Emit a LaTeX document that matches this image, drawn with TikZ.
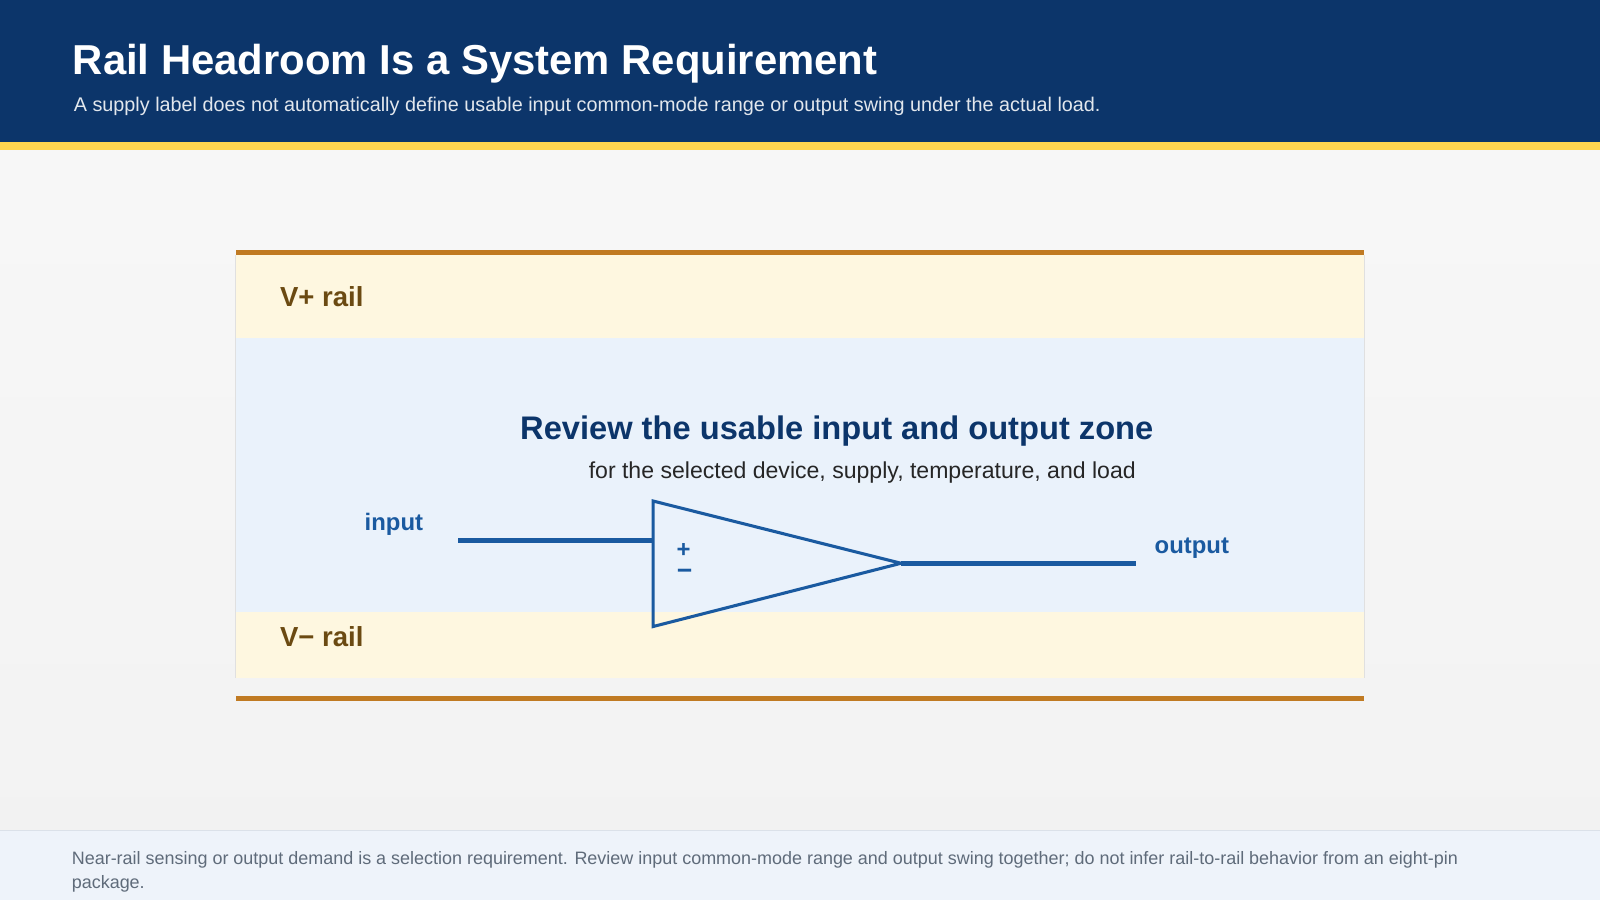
\documentclass[tikz,border=0pt]{standalone}
\usepackage{fontspec}
\setmainfont{Liberation Sans}
\definecolor{navy}{HTML}{0C356A}
\definecolor{gold}{HTML}{FFD54F}
\definecolor{rail}{HTML}{C07A22}
\definecolor{cream}{HTML}{FEF7E0}
\definecolor{zone}{HTML}{EAF2FB}
\definecolor{brown}{HTML}{6B4A12}
\definecolor{amp}{HTML}{1A5AA0}
\definecolor{foot}{HTML}{EEF3FA}
\definecolor{foottext}{HTML}{5F6B7A}
\begin{document}
\begin{tikzpicture}[x=0.5pt,y=-0.5pt,
  raillbl/.style={anchor=west,font=\fontsize{13.5}{15}\selectfont\bfseries,text=brown,inner sep=0},
  amplbl/.style={font=\fontsize{11.7}{14}\selectfont\bfseries,text=amp,inner sep=0},
  wire/.style={draw=amp,line width=2.5pt}]
\useasboundingbox (0,0) rectangle (1568,882);
\shade[top color=white!97!black,bottom color=white!95!black] (0,147) rectangle (1568,814);
\fill[navy] (0,0) rectangle (1568,139);
\fill[gold] (0,139) rectangle (1568,147);
\node[anchor=west,inner sep=0,text=white,font=\fontsize{20.5}{24}\selectfont\bfseries] (title) at (71,62) {Rail Headroom Is a System Requirement};
\node[anchor=west,inner sep=0,text=white!88!navy,font=\fontsize{9.7}{11}\selectfont] (sub) at (72,104) {A supply label does not automatically define usable input common-mode range or output swing under the actual load.};
% box
\fill[cream] (231,250) rectangle (1337,331);
\fill[zone] (231,331) rectangle (1337,600);
\fill[cream] (231,600) rectangle (1337,664);
\draw[white!88!black,line width=0.4pt] (231,250) -- (231,664) (1337,250) -- (1337,664);
\fill[rail] (231,245) rectangle (1337,250);
\fill[rail] (231,682) rectangle (1337,687);
\node[raillbl] (vp) at (274,291) {V+ rail};
\node[raillbl] (vm) at (274,624) {V− rail};
\node[inner sep=0,text=navy,font=\fontsize{16}{18}\selectfont\bfseries] (rt) at (820,422) {Review the usable input and output zone};
\node[inner sep=0,text=black!85,font=\fontsize{11.3}{13}\selectfont] (rs) at (845,463) {for the selected device, supply, temperature, and load};
% op amp
\coordinate (a1) at (640,491);
\coordinate (a2) at (640,614);
\coordinate (a3) at (883,552);
\draw[amp,line width=1.5pt,line join=miter] (a1) -- (a3) -- (a2) -- cycle;
\coordinate (inl) at (449,530);
\coordinate (inr) at (640,530);
\coordinate (outr) at (1113,552);
\draw[wire] (inl) -- (inr);
\draw[wire] (a3) -- (outr);
\node[amplbl] (plus) at (670,539) {+};
\node[amplbl,font=\fontsize{13}{14}\selectfont\bfseries] (minus) at (671,563) {−};
\node[amplbl] (in) at (386,514) {input};
\node[amplbl] (out) at (1168,537) {output};
% footer
\fill[foot] (0,814) rectangle (1568,882);
\draw[white!85!navy,line width=0.5pt] (0,814) -- (1568,814);
\node[anchor=west,inner sep=0,text=foottext,font=\fontsize{8.8}{10}\selectfont] (f1) at (70,843) {Near-rail sensing or output demand is a selection requirement. Review input common-mode range and output swing together; do not infer rail-to-rail behavior from an eight-pin};
\node[anchor=west,inner sep=0,text=foottext,font=\fontsize{8.8}{10}\selectfont] (f2) at (70,866) {package.};
\end{tikzpicture}
\end{document}
